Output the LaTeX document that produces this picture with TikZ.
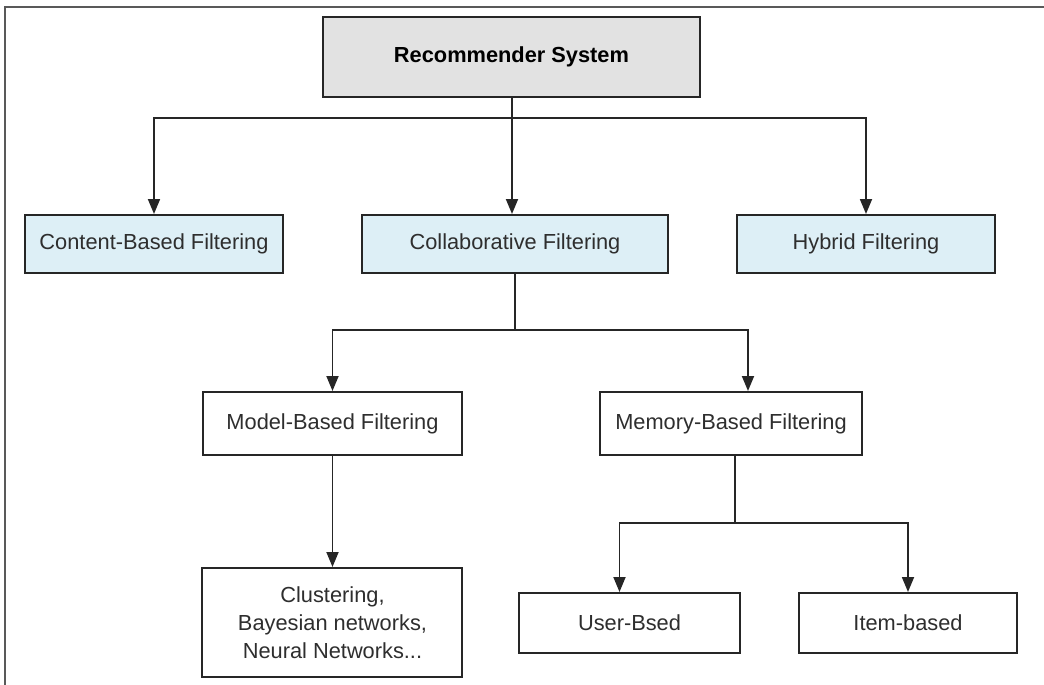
\documentclass[tikz,border=0pt]{standalone}
\usepackage{fontspec}
\setmainfont{Liberation Sans}
\usepackage{tikz}
\usetikzlibrary{shapes,arrows.meta,positioning}

\definecolor{paleblue}{HTML}{DDEFF6}
\definecolor{palegray}{HTML}{E2E2E2}
\definecolor{inkgray}{HTML}{2E2E2E}

\begin{document}
\begin{tikzpicture}[node distance=187pt, font=\fontsize{21.8}{28}\selectfont]

\tikzstyle{topbox} = [rectangle, minimum width=377pt, minimum height=80pt, inner sep=0pt, text centered, draw=black!85, line width=2pt, fill=palegray, font=\fontsize{21.8}{28}\selectfont\bfseries]
\tikzstyle{blue} = [rectangle, minimum height=58pt, inner sep=0pt, text centered, draw=black!85, line width=2pt, fill=paleblue, text=inkgray]
\tikzstyle{plain} = [rectangle, minimum height=63pt, inner sep=0pt, align=center, draw=black!85, line width=2pt, fill=white, text=inkgray]
\tikzstyle{line} = [line width=1.8pt, draw=black!85]
\tikzstyle{arrow} = [line, -{Triangle[length=15pt,width=12pt]}]

\useasboundingbox (-511.5pt,-628pt) rectangle (532.5pt,57pt);
\draw [line, draw=black!65] (-506.5pt,-628pt) -- (-506.5pt,50pt) -- (532.5pt,50pt);

\node (rec) [topbox] {Recommender System};
\node (collab) [blue, below of=rec, xshift=3.5pt, minimum width=306pt] {Collaborative Filtering};
\node (content) [blue, left of=collab, node distance=361pt, minimum width=258pt] {Content-Based Filtering};
\node (hybrid) [blue, right of=collab, node distance=351pt, minimum width=258pt] {Hybrid Filtering};
\node (model) [plain, below of=collab, node distance=179.5pt, xshift=-182.5pt, minimum width=259pt] {Model-Based Filtering};
\node (memory) [plain, right of=model, node distance=398.5pt, minimum width=262pt] {Memory-Based Filtering};
\node (cluster) [plain, below of=model, node distance=199pt, minimum width=260pt, minimum height=109pt] {Clustering,\\Bayesian networks,\\Neural Networks...};
\node (user) [plain, below of=memory, node distance=199.5pt, xshift=-101.5pt, minimum width=221pt, minimum height=60pt] {User-Bsed};
\node (item) [plain, right of=user, node distance=278.5pt, minimum width=218pt, minimum height=60pt] {Item-based};

% branch points
\coordinate [below of=rec, node distance=61pt, xshift=0.5pt] (split1);
\coordinate [below of=collab, node distance=86pt] (split2);
\coordinate [below of=memory, node distance=99.5pt, xshift=4pt] (split3);

\draw [line] (split1 |- rec.south) -- (split1);
\draw [arrow] (split1) -| (content);
\draw [arrow] (split1) -- (split1 |- collab.north);
\draw [arrow] (split1) -| (hybrid);

\draw [line] (collab) -- (split2);
\draw [arrow] (split2) -| (model);
\draw [arrow] (split2) -| ([xshift=17pt]memory.north);
\draw [arrow] (model) -- (cluster);

\draw [line] (split3 |- memory.south) -- (split3);
\draw [arrow] (split3) -| ([xshift=-10pt]user.north);
\draw [arrow] (split3) -| (item);

\end{tikzpicture}
\end{document}
